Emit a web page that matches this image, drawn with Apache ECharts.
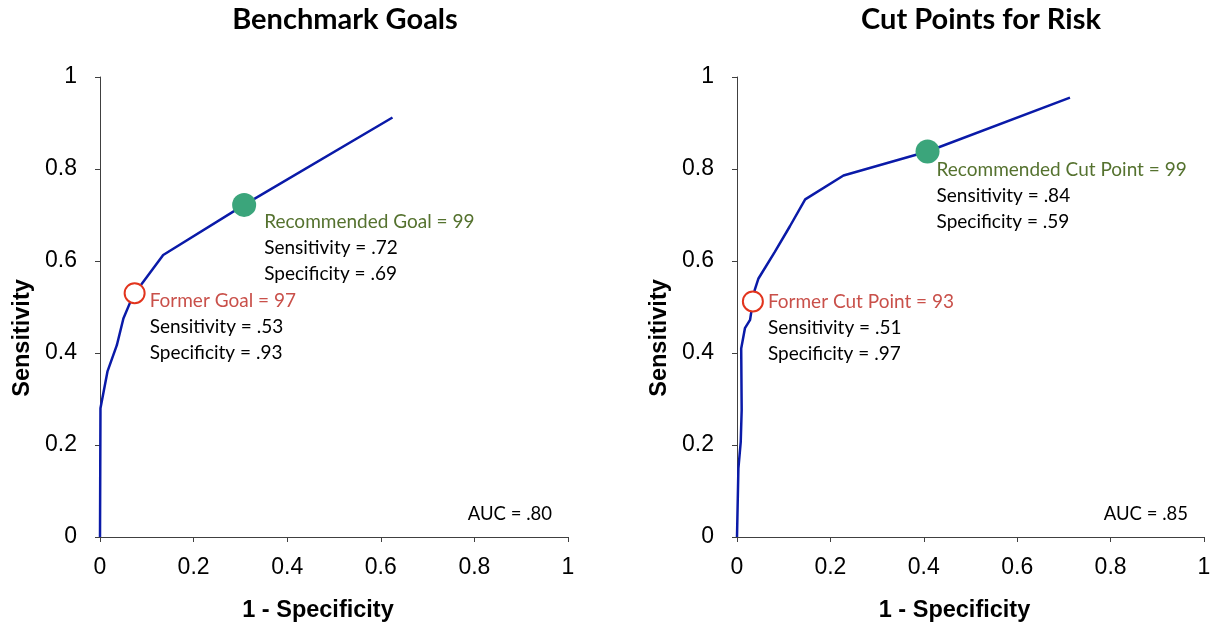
<!DOCTYPE html>
<html>
<head>
<meta charset="utf-8">
<script src="https://cdn.jsdelivr.net/npm/echarts@6/dist/echarts.min.js"></script>
<style>
  html, body { margin: 0; padding: 0; background: #fff; }
  #chart { width: 1212px; height: 623px; }
</style>
</head>
<body>
<div id="chart"></div>
<script>
// ---- Data ----
const titles = ['Benchmark Goals', 'Cut Points for Risk'];
const xAxisName = '1 - Specificity';
const yAxisName = 'Sensitivity';

// Left panel ROC curve (1 - specificity, sensitivity)
const leftFpr  = [0, 0.001, 0.016, 0.036, 0.050, 0.064, 0.074, 0.089, 0.135, 0.308, 0.625];
const leftSens = [0, 0.280, 0.360, 0.417, 0.475, 0.509, 0.530, 0.550, 0.613, 0.722, 0.912];

// Right panel ROC curve
const rightFpr  = [0, 0.001, 0.003, 0.008, 0.010, 0.009, 0.017, 0.028, 0.034, 0.038, 0.046, 0.081, 0.113, 0.146, 0.228, 0.408, 0.713];
const rightSens = [0, 0.000, 0.149, 0.207, 0.276, 0.410, 0.454, 0.472, 0.512, 0.537, 0.562, 0.620, 0.675, 0.734, 0.786, 0.838, 0.955];

// Highlighted points [1 - specificity, sensitivity]
const leftFormer = [0.074, 0.53];
const leftRecommended = [0.308, 0.722];
const rightFormer = [0.034, 0.512];
const rightRecommended = [0.408, 0.838];

// Annotation texts
const leftFormerText = ['Former Goal = 97', 'Sensitivity = .53', 'Specificity = .93'];
const leftRecText = ['Recommended Goal = 99', 'Sensitivity = .72', 'Specificity = .69'];
const rightFormerText = ['Former Cut Point = 93', 'Sensitivity = .51', 'Specificity = .97'];
const rightRecText = ['Recommended Cut Point = 99', 'Sensitivity = .84', 'Specificity = .59'];
const aucTexts = ['AUC = .80', 'AUC = .85'];

// ---- Styles ----
const LINE = '#0a1aa8';
const GREEN = '#3ba57b';
const GREEN_TXT = '#55722f';
const RED = '#e2341d';
const RED_TXT = '#c9504a';
const CAL = 'Lato, "Open Sans", sans-serif';
const ARIAL = '"Liberation Sans", Arial, sans-serif';

const pairs = (xs, ys) => xs.map((x, i) => [x, ys[i]]);

function richLabel(lines, headColor) {
  return {
    show: true,
    formatter: '{h|' + lines[0] + '}\n{b|' + lines[1] + '}\n{b|' + lines[2] + '}',
    rich: {
      h: { fontFamily: CAL, fontSize: 19, color: headColor, lineHeight: 26 },
      b: { fontFamily: CAL, fontSize: 19, color: '#000', lineHeight: 26 }
    }
  };
}

const grids = [
  { left: 100, top: 77, width: 468, height: 460, containLabel: false, outerBoundsMode: 'none' },
  { left: 737, top: 77, width: 467, height: 460, containLabel: false, outerBoundsMode: 'none' }
];

function xAx(i) {
  return {
    type: 'value', gridIndex: i, min: 0, max: 1, interval: 0.2,
    name: xAxisName, nameLocation: 'middle', nameGap: 62,
    nameTextStyle: { fontFamily: ARIAL, fontSize: 23.5, fontWeight: 'bold', color: '#000', padding: [0, 32, 0, 0] },
    axisLine: { show: true, onZero: false, lineStyle: { color: '#404040', width: 1 } },
    axisTick: { show: true, inside: false, length: 5, lineStyle: { color: '#404040' } },
    axisLabel: { fontFamily: ARIAL, fontSize: 23, color: '#000', margin: 19 },
    splitLine: { show: false }
  };
}
function yAx(i) {
  return {
    type: 'value', gridIndex: i, min: 0, max: 1, interval: 0.2,
    name: yAxisName, nameLocation: 'middle', nameGap: 65,
    nameTextStyle: { fontFamily: ARIAL, fontSize: 23.5, fontWeight: 'bold', color: '#000', padding: [0, 62, 0, 0] },
    axisLine: { show: true, onZero: false, lineStyle: { color: '#404040', width: 1 } },
    axisTick: { show: true, inside: false, length: 5, lineStyle: { color: '#404040' } },
    axisLabel: { fontFamily: ARIAL, fontSize: 23, color: '#000', margin: 23 },
    splitLine: { show: false }
  };
}

function curve(i, xs, ys) {
  return {
    type: 'line', xAxisIndex: i, yAxisIndex: i, data: pairs(xs, ys),
    showSymbol: false, symbol: 'none', smooth: false, silent: true, z: 2,
    lineStyle: { color: LINE, width: 2.5 }
  };
}
function former(i, pt, lines, pos) {
  const lab = richLabel(lines, RED_TXT);
  lab.position = pos; lab.align = 'left'; lab.verticalAlign = 'top';
  return {
    type: 'scatter', xAxisIndex: i, yAxisIndex: i, data: [pt], z: 4,
    symbol: 'circle', symbolSize: 20, silent: true,
    itemStyle: { color: '#fff', borderColor: RED, borderWidth: 2, opacity: 1 },
    label: lab
  };
}
function recommended(i, pt, lines, pos) {
  const lab = richLabel(lines, GREEN_TXT);
  lab.position = pos; lab.align = 'left'; lab.verticalAlign = 'top';
  return {
    type: 'scatter', xAxisIndex: i, yAxisIndex: i, data: [pt], z: 4,
    symbol: 'circle', symbolSize: 24, silent: true,
    itemStyle: { color: GREEN, opacity: 1 },
    label: lab
  };
}

const chart = echarts.init(document.getElementById('chart'), null, { renderer: 'canvas' });
chart.setOption({
  animation: false,
  backgroundColor: '#fff',
  title: [
    { text: titles[0], left: 340, top: 0, textAlign: 'center',
      textStyle: { fontFamily: CAL, fontSize: 29, fontWeight: 'bold', color: '#000' } },
    { text: titles[1], left: 976, top: 0, textAlign: 'center',
      textStyle: { fontFamily: CAL, fontSize: 29, fontWeight: 'bold', color: '#000' } }
  ],
  grid: grids,
  xAxis: [xAx(0), xAx(1)],
  yAxis: [yAx(0), yAx(1)],
  graphic: [
    { type: 'text', right: 1212 - 552, top: 505, style: { text: aucTexts[0], font: '18.5px ' + CAL, fill: '#000' } },
    { type: 'text', right: 1212 - 1188, top: 505, style: { text: aucTexts[1], font: '18.5px ' + CAL, fill: '#000' } }
  ],
  series: [
    curve(0, leftFpr, leftSens),
    former(0, leftFormer, leftFormerText, [26, 6]),
    recommended(0, leftRecommended, leftRecText, [32, 16]),
    curve(1, rightFpr, rightSens),
    former(1, rightFormer, rightFormerText, [26, -2]),
    recommended(1, rightRecommended, rightRecText, [21, 17])
  ]
});
</script>
</body>
</html>
